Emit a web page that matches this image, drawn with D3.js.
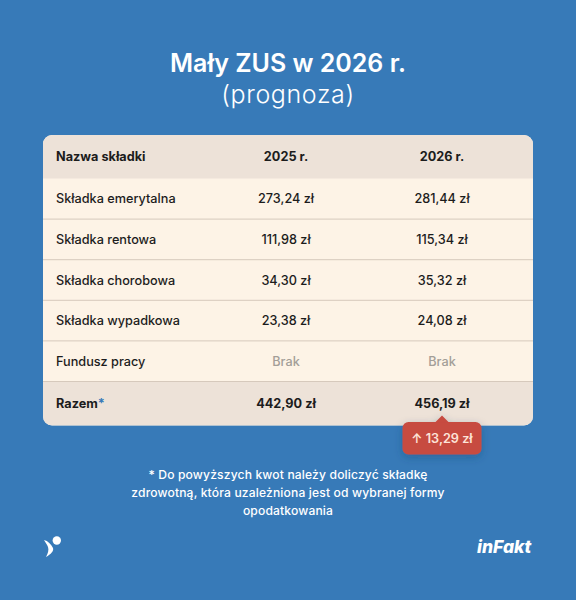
<!DOCTYPE html>
<html>
<head>
<meta charset="utf-8">
<script src="https://cdn.jsdelivr.net/npm/d3@7"></script>
<style>
  html, body { margin: 0; padding: 0; background: #377ab8; }
  svg { display: block; font-family: Inter, "Noto Sans", sans-serif; }
</style>
</head>
<body>
<svg id="chart" width="576" height="600"></svg>
<script>
// table content
const headers = ["Nazwa składki", "2025 r.", "2026 r."];
const rowNames = ["Składka emerytalna", "Składka rentowa", "Składka chorobowa", "Składka wypadkowa", "Fundusz pracy"];
const values2025 = ["273,24 zł", "111,98 zł", "34,30 zł", "23,38 zł", "Brak"];
const values2026 = ["281,44 zł", "115,34 zł", "35,32 zł", "24,08 zł", "Brak"];
const totalLabel = "Razem";
const total2025 = "442,90 zł";
const total2026 = "456,19 zł";
const increase = "↑ 13,29 zł";
const noteLines = [
  "* Do powyższych kwot należy doliczyć składkę",
  "zdrowotną, która uzależniona jest od wybranej formy",
  "opodatkowania"
];

const svg = d3.select("#chart");

const defs = svg.append("defs");
const clip = defs.append("clipPath").attr("id", "tableClip");
clip.append("rect").attr("x", 43).attr("y", 135).attr("width", 490).attr("height", 290.5).attr("rx", 9);
const shadow = defs.append("filter").attr("id", "soft").attr("x", "-20%").attr("y", "-30%").attr("width", "140%").attr("height", "170%");
shadow.append("feDropShadow").attr("dx", 0).attr("dy", 3).attr("stdDeviation", 4)
  .attr("flood-color", "#1d3f66").attr("flood-opacity", 0.35);

// background
svg.append("rect").attr("width", 576).attr("height", 600).attr("fill", "#377ab8");

// title
svg.append("text").attr("x", 288).attr("y", 72).attr("text-anchor", "middle")
  .attr("font-size", 25).attr("font-weight", 600).attr("fill", "#fff").text("Mały ZUS w 2026 r.");
svg.append("text").attr("x", 288).attr("y", 103).attr("text-anchor", "middle")
  .attr("font-size", 25).attr("font-weight", 300).attr("letter-spacing", 0.6).attr("fill", "#fff").text("(prognoza)");

// table
const colX = d3.scaleOrdinal().domain([0, 1, 2]).range([56, 286, 442]);
const rowY = d3.scaleBand().domain(rowNames).range([178.5, 381.5]);

const table = svg.append("g").attr("clip-path", "url(#tableClip)");
table.append("rect").attr("x", 43).attr("y", 135).attr("width", 490).attr("height", 291).attr("fill", "#fdf3e6");
table.append("rect").attr("x", 43).attr("y", 135).attr("width", 490).attr("height", 43.5).attr("fill", "#ede2d8");
table.append("rect").attr("x", 43).attr("y", 381.5).attr("width", 490).attr("height", 44).attr("fill", "#ede2d8");

table.selectAll("line.sep").data(rowNames.slice(1).concat(["end"])).join("line")
  .attr("class", "sep")
  .attr("x1", 43).attr("x2", 533)
  .attr("y1", (d, i) => 178.5 + rowY.bandwidth() * (i + 1))
  .attr("y2", (d, i) => 178.5 + rowY.bandwidth() * (i + 1))
  .attr("stroke", "#d6c9bc").attr("stroke-width", 1);

function addCell(col, y, txt, weight, color) {
  return svg.append("text")
    .attr("x", colX(col)).attr("y", y)
    .attr("dy", "0.36em")
    .attr("text-anchor", col === 0 ? "start" : "middle")
    .attr("font-size", 12.7).attr("font-weight", weight)
    .attr("fill", color || "#1c1c1c")
    .text(txt);
}

headers.forEach((h, i) => addCell(i, 156.8, h, 700));

rowNames.forEach((name, i) => {
  const y = rowY(name) + rowY.bandwidth() / 2;
  addCell(0, y, name, 500);
  [values2025[i], values2026[i]].forEach((v, j) => {
    addCell(j + 1, y, v, 500, v === "Brak" ? "#a39e98" : null);
  });
});

const totalY = 403;
const razem = addCell(0, totalY, totalLabel, 700);
razem.append("tspan").attr("fill", "#377ab8").text("*");
addCell(1, totalY, total2025, 700);
addCell(2, totalY, total2026, 700);

// badge with the increase
const badge = svg.append("g").attr("filter", "url(#soft)");
badge.append("rect").attr("x", 402.5).attr("y", 422).attr("width", 79).attr("height", 32.5).attr("rx", 6).attr("fill", "#c74b41");
badge.append("path").attr("d", d3.line()([[435, 422.5], [442, 415.5], [449, 422.5]])).attr("fill", "#c74b41");
svg.append("text").attr("x", 442).attr("y", 438.5).attr("dy", "0.36em").attr("text-anchor", "middle")
  .attr("font-size", 12.7).attr("font-weight", 600).attr("fill", "#fde4d8").text(increase);

// footnote
svg.selectAll("text.note").data(noteLines).join("text")
  .attr("class", "note")
  .attr("x", 288)
  .attr("y", (d, i) => 479 + i * 18)
  .attr("text-anchor", "middle")
  .attr("font-size", 12.1).attr("font-weight", 500).attr("letter-spacing", 0.15).attr("fill", "#fff")
  .text(d => d);

// logos
const bird = svg.append("g").attr("fill", "#fff");
bird.append("circle").attr("cx", 56.8).attr("cy", 540.5).attr("r", 4.2);
bird.append("path").attr("d", "M44 540 C48 541 51 544 53 548 C54 551 51 554 46 557 C48 553 49 550 48 547 C47 544 45 542 44 540 Z");
svg.append("text").attr("x", 477).attr("y", 553).attr("font-size", 17.5).attr("font-weight", 800)
  .attr("font-style", "italic").attr("fill", "#fff").text("inFakt");
</script>
</body>
</html>
